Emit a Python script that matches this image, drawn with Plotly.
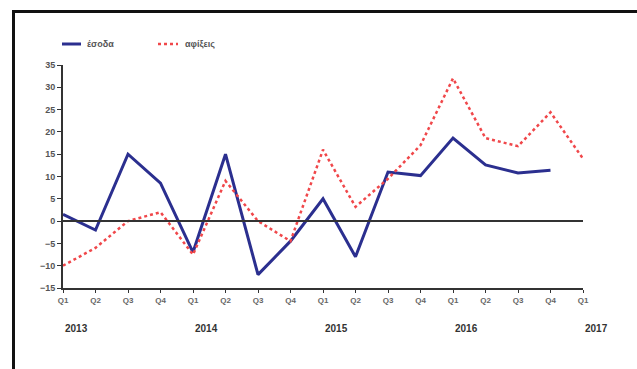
import plotly.graph_objects as go

# Quarterly change (%) of tourism revenue and arrivals, 2013Q1–2017Q1
quarters = ["Q1", "Q2", "Q3", "Q4"] * 4 + ["Q1"]
years = ["2013", "2014", "2015", "2016", "2017"]
revenue = [1.5, -2, 15, 8.5, -7, 15, -12, -4.5, 5, -8, 11, 10.2, 18.6, 12.6, 10.8, 11.4, None]
arrivals = [-10, -6, 0, 2, -7.5, 9, 0, -4.5, 16, 3.2, 9.5, 17, 32, 18.6, 16.8, 24.4, 14]
y_ticks = [-15, -10, -5, 0, 5, 10, 15, 20, 25, 30, 35]
series_names = ["έσοδα", "αφίξεις"]

x = list(range(len(quarters)))
blue = "#2B2F8F"
red = "#F0474A"
axis_col = "#333333"
family = "Liberation Sans, Arial, sans-serif"

fig = go.Figure()
fig.add_trace(go.Scatter(x=x, y=revenue, mode="lines", name=series_names[0],
                         line=dict(color=blue, width=3)))
fig.add_trace(go.Scatter(x=x, y=arrivals, mode="lines", name=series_names[1],
                         line=dict(color=red, width=2.5, dash="dot")))

W, H = 637, 369
L, R, T, B = 63, 54, 65, 81
pw, ph = W - L - R, H - T - B

def px(xp):
    return (xp - L) / pw

def py(yp):
    return (H - B - yp) / ph

frame = dict(color="#111111", width=3)
shapes = [
    # zero line
    dict(type="line", xref="x", yref="y", x0=0, x1=16, y0=0, y1=0,
         line=dict(color=axis_col, width=2)),
    # outer frame: left and top edges only (the rest runs off the page)
    dict(type="line", xref="paper", yref="paper",
         x0=px(13.5), x1=px(13.5), y0=py(H + 5), y1=py(10), line=frame),
    dict(type="line", xref="paper", yref="paper",
         x0=px(12), x1=px(W + 5), y0=py(11.5), y1=py(11.5), line=frame),
    # legend keys
    dict(type="line", xref="paper", yref="paper", x0=px(62), x1=px(81),
         y0=py(44), y1=py(44), line=dict(color=blue, width=3)),
    dict(type="line", xref="paper", yref="paper", x0=px(158), x1=px(178),
         y0=py(44), y1=py(44), line=dict(color=red, width=2.5, dash="dot")),
]

legend_font = dict(family=family, size=9, color="#555", weight="bold")
annotations = [
    dict(text=series_names[0], xref="paper", yref="paper", x=px(85), y=py(44),
         xanchor="left", yanchor="middle", showarrow=False, font=legend_font),
    dict(text=series_names[1], xref="paper", yref="paper", x=px(183), y=py(44),
         xanchor="left", yanchor="middle", showarrow=False, font=legend_font),
]
for i, yr in enumerate(years):
    annotations.append(dict(text=yr, xref="x", yref="paper", x=i * 4,
                            y=py(328), xanchor="center", yanchor="middle", xshift=13,
                            showarrow=False,
                            font=dict(family=family, size=10, color="#333", weight="bold")))

fig.update_layout(
    width=W, height=H,
    margin=dict(l=L, r=R, t=T, b=B, autoexpand=False),
    paper_bgcolor="white", plot_bgcolor="white",
    showlegend=False,
    font=dict(family=family, size=9, color="#4a4a4a"),
    shapes=shapes,
    annotations=annotations,
)
fig.update_xaxes(range=[0, 16], tickvals=x, ticktext=quarters, showgrid=False,
                 zeroline=False, showline=True, linecolor=axis_col, linewidth=2,
                 ticks="outside", ticklen=3, tickcolor=axis_col, tickangle=0,
                 tickfont=dict(family=family, size=8, color="#666", weight="bold"))
fig.update_yaxes(range=[-15, 35], tickvals=y_ticks, showgrid=False, zeroline=False,
                 showline=True, linecolor=axis_col, linewidth=2,
                 ticks="outside", ticklen=4, tickcolor=axis_col,
                 tickfont=dict(family=family, size=9, color="#555", weight="bold"))

fig.write_html("out.html")
